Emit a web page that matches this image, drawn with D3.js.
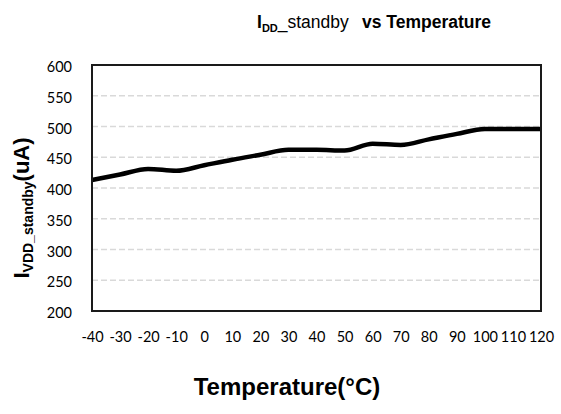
<!DOCTYPE html>
<html>
<head>
<meta charset="utf-8">
<script src="https://cdn.jsdelivr.net/npm/d3@7"></script>
<style>
  body { margin: 0; background: #fff; }
  svg { display: block; }
</style>
</head>
<body>
<svg id="chart"></svg>
<script>
// data
const temps = [-40, -30, -20, -10, 0, 10, 20, 30, 40, 50, 60, 70, 80, 90, 100, 110, 120];
const iddStandby = [413, 422, 431, 428, 437, 446, 454, 462, 462, 461, 472, 470, 479, 488, 496, 496, 496];
const yTicks = [200, 250, 300, 350, 400, 450, 500, 550, 600];

const width = 561, height = 414;
const margin = {top: 65, right: 20, bottom: 103, left: 92};
const innerW = width - margin.left - margin.right;
const innerH = height - margin.top - margin.bottom;

const svg = d3.select('#chart')
    .attr('width', width)
    .attr('height', height);

const chart = svg.append('g')
    .attr('transform', `translate(${margin.left}, ${margin.top})`);

const xscale = d3.scaleLinear()
    .domain([-40, 120])
    .range([0, innerW]);

const yscale = d3.scaleLinear()
    .domain([200, 600])
    .range([innerH, 0]);

// dashed gridlines
chart.append('g')
    .selectAll('line')
    .data(yTicks.filter(d => d > 200 && d < 600))
    .join('line')
    .attr('x1', 0)
    .attr('x2', innerW)
    .attr('y1', d => yscale(d))
    .attr('y2', d => yscale(d))
    .attr('stroke', '#d9d9d9')
    .attr('stroke-width', 1.5)
    .attr('stroke-dasharray', '6,3');

// axes (labels only, the frame draws the lines)
const yaxis = d3.axisLeft(yscale)
    .tickValues(yTicks)
    .tickSize(0)
    .tickPadding(20);

const xaxis = d3.axisBottom(xscale)
    .tickValues(temps)
    .tickFormat(d => String(d))
    .tickSize(0)
    .tickPadding(21);

const yaxis_group = chart.append('g').call(yaxis);
const xaxis_group = chart.append('g')
    .attr('transform', `translate(0, ${innerH})`)
    .call(xaxis);

[yaxis_group, xaxis_group].forEach(g => {
    g.select('.domain').remove();
    g.selectAll('text')
        .attr('font-family', 'Lato, "Open Sans", sans-serif')
        .attr('font-size', 14.5)
        .attr('fill', '#000');
});
yaxis_group.selectAll('text').attr('dy', '0.45em');

// the data line
const line = d3.line()
    .x((d, i) => xscale(temps[i]))
    .y(d => yscale(d))
    .curve(d3.curveMonotoneX);

chart.append('path')
    .datum(iddStandby)
    .attr('d', line)
    .attr('fill', 'none')
    .attr('stroke', '#000')
    .attr('stroke-width', 4.5)
    .attr('stroke-linejoin', 'round');

// plot frame
chart.append('rect')
    .attr('x', 0)
    .attr('y', 0)
    .attr('width', innerW)
    .attr('height', innerH)
    .attr('fill', 'none')
    .attr('stroke', '#1a1a1a')
    .attr('stroke-width', 2);

// title
const title = svg.append('text')
    .attr('x', 257)
    .attr('y', 28)
    .attr('font-family', '"Liberation Sans", Arial, sans-serif')
    .attr('font-size', 17.5)
    .attr('fill', '#000');
title.append('tspan').attr('font-weight', 'bold').text('I');
title.append('tspan').attr('font-weight', 'bold').attr('font-size', 11).attr('dy', 4).text('DD');
title.append('tspan').attr('dy', -4).text('_standby');
title.append('tspan').attr('x', 362).attr('font-weight', 'bold').text('vs Temperature');

// x axis title
svg.append('text')
    .attr('x', 287)
    .attr('y', 395)
    .attr('text-anchor', 'middle')
    .attr('font-family', '"Liberation Sans", Arial, sans-serif')
    .attr('font-weight', 'bold')
    .attr('font-size', 24)
    .text('Temperature(°C)');

// y axis title
const ylabel = svg.append('text')
    .attr('transform', 'translate(29, 208) rotate(-90)')
    .attr('text-anchor', 'middle')
    .attr('font-family', '"Liberation Sans", Arial, sans-serif')
    .attr('font-weight', 'bold')
    .attr('font-size', 22)
    .attr('fill', '#000');
ylabel.append('tspan').text('I');
ylabel.append('tspan').attr('font-size', 14).attr('dy', 4).text('VDD_standby');
ylabel.append('tspan').attr('dy', -4).text('(uA)');
</script>
</body>
</html>
